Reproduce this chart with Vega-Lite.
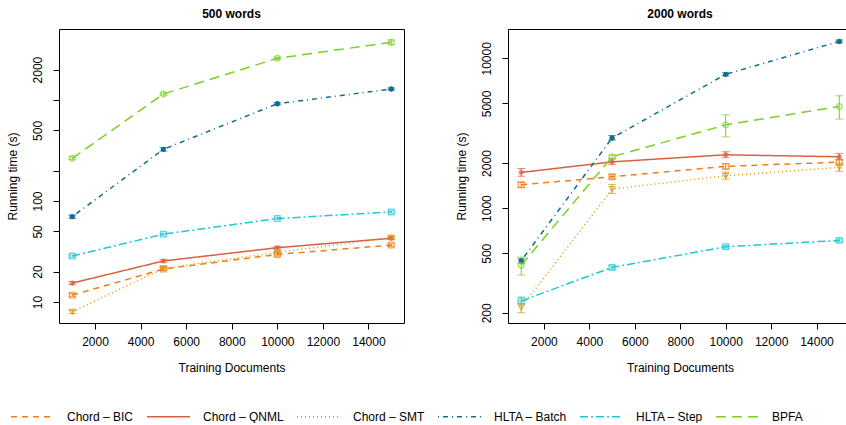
{
  "$schema": "https://vega.github.io/schema/vega-lite/v6.json",
  "padding": {"left": 5, "top": 7, "right": 0, "bottom": 0},
  "background": "white",
  "config": {
    "font": "Liberation Sans",
    "view": {"stroke": "black", "strokeWidth": 1},
    "axis": {"grid": false, "domain": false, "tickColor": "black", "tickSize": 6, "labelFontSize": 12, "titleFontSize": 12, "titleFontWeight": "normal", "labelColor": "black", "titleColor": "black", "labelFont": "Liberation Sans", "titleFont": "Liberation Sans"},
    "title": {"fontSize": 12, "fontWeight": "bold", "font": "Liberation Sans", "offset": 8},
    "legend": {"labelFont": "Liberation Sans", "labelFontSize": 12, "labelColor": "black", "padding": 0},
    "point": {"size": 32, "strokeWidth": 1.3}
  },
  "data": {"values": [
    {"panel": "500", "series": "Chord – BIC", "docs": 1000, "time": 11.7, "lo": 11.3, "hi": 12.1},
    {"panel": "500", "series": "Chord – BIC", "docs": 5000, "time": 21.2, "lo": 20.5, "hi": 21.9},
    {"panel": "500", "series": "Chord – BIC", "docs": 10000, "time": 29.6, "lo": 28.6, "hi": 30.6},
    {"panel": "500", "series": "Chord – BIC", "docs": 15000, "time": 36.6, "lo": 35.5, "hi": 37.7},
    {"panel": "500", "series": "Chord – QNML", "docs": 1000, "time": 15.4, "lo": 14.9, "hi": 15.9},
    {"panel": "500", "series": "Chord – QNML", "docs": 5000, "time": 25.5, "lo": 24.7, "hi": 26.3},
    {"panel": "500", "series": "Chord – QNML", "docs": 10000, "time": 34.5, "lo": 33.4, "hi": 35.6},
    {"panel": "500", "series": "Chord – QNML", "docs": 15000, "time": 42.8, "lo": 41.5, "hi": 44.1},
    {"panel": "500", "series": "Chord – SMT", "docs": 1000, "time": 8.0, "lo": 7.7, "hi": 8.3},
    {"panel": "500", "series": "Chord – SMT", "docs": 5000, "time": 21.5, "lo": 20.8, "hi": 22.2},
    {"panel": "500", "series": "Chord – SMT", "docs": 10000, "time": 31, "lo": 30, "hi": 32},
    {"panel": "500", "series": "Chord – SMT", "docs": 15000, "time": 43.4, "lo": 42, "hi": 44.8},
    {"panel": "500", "series": "HLTA – Batch", "docs": 1000, "time": 70, "lo": 67.5, "hi": 72.5},
    {"panel": "500", "series": "HLTA – Batch", "docs": 5000, "time": 325, "lo": 312, "hi": 338},
    {"panel": "500", "series": "HLTA – Batch", "docs": 10000, "time": 918, "lo": 895, "hi": 941},
    {"panel": "500", "series": "HLTA – Batch", "docs": 15000, "time": 1285, "lo": 1255, "hi": 1315},
    {"panel": "500", "series": "HLTA – Step", "docs": 1000, "time": 28.5, "lo": 27.8, "hi": 29.2},
    {"panel": "500", "series": "HLTA – Step", "docs": 5000, "time": 47, "lo": 46, "hi": 48},
    {"panel": "500", "series": "HLTA – Step", "docs": 10000, "time": 67, "lo": 65.5, "hi": 68.5},
    {"panel": "500", "series": "HLTA – Step", "docs": 15000, "time": 78, "lo": 76, "hi": 80},
    {"panel": "500", "series": "BPFA", "docs": 1000, "time": 265, "lo": 257, "hi": 273},
    {"panel": "500", "series": "BPFA", "docs": 5000, "time": 1146, "lo": 1115, "hi": 1177},
    {"panel": "500", "series": "BPFA", "docs": 10000, "time": 2588, "lo": 2520, "hi": 2656},
    {"panel": "500", "series": "BPFA", "docs": 15000, "time": 3727, "lo": 3530, "hi": 3930},
    {"panel": "2000", "series": "Chord – BIC", "docs": 1000, "time": 1432, "lo": 1380, "hi": 1490},
    {"panel": "2000", "series": "Chord – BIC", "docs": 5000, "time": 1618, "lo": 1570, "hi": 1670},
    {"panel": "2000", "series": "Chord – BIC", "docs": 10000, "time": 1900, "lo": 1820, "hi": 1980},
    {"panel": "2000", "series": "Chord – BIC", "docs": 15000, "time": 2028, "lo": 1950, "hi": 2100},
    {"panel": "2000", "series": "Chord – QNML", "docs": 1000, "time": 1731, "lo": 1630, "hi": 1840},
    {"panel": "2000", "series": "Chord – QNML", "docs": 5000, "time": 2036, "lo": 1950, "hi": 2130},
    {"panel": "2000", "series": "Chord – QNML", "docs": 10000, "time": 2270, "lo": 2170, "hi": 2380},
    {"panel": "2000", "series": "Chord – QNML", "docs": 15000, "time": 2202, "lo": 2100, "hi": 2320},
    {"panel": "2000", "series": "Chord – SMT", "docs": 1000, "time": 217, "lo": 200, "hi": 240},
    {"panel": "2000", "series": "Chord – SMT", "docs": 5000, "time": 1339, "lo": 1250, "hi": 1440},
    {"panel": "2000", "series": "Chord – SMT", "docs": 10000, "time": 1645, "lo": 1560, "hi": 1740},
    {"panel": "2000", "series": "Chord – SMT", "docs": 15000, "time": 1870, "lo": 1760, "hi": 2000},
    {"panel": "2000", "series": "HLTA – Batch", "docs": 1000, "time": 445, "lo": 430, "hi": 460},
    {"panel": "2000", "series": "HLTA – Batch", "docs": 5000, "time": 2939, "lo": 2850, "hi": 3050},
    {"panel": "2000", "series": "HLTA – Batch", "docs": 10000, "time": 7821, "lo": 7650, "hi": 8000},
    {"panel": "2000", "series": "HLTA – Batch", "docs": 15000, "time": 12973, "lo": 12700, "hi": 13250},
    {"panel": "2000", "series": "HLTA – Step", "docs": 1000, "time": 240, "lo": 230, "hi": 255},
    {"panel": "2000", "series": "HLTA – Step", "docs": 5000, "time": 402, "lo": 392, "hi": 412},
    {"panel": "2000", "series": "HLTA – Step", "docs": 10000, "time": 552, "lo": 540, "hi": 565},
    {"panel": "2000", "series": "HLTA – Step", "docs": 15000, "time": 609, "lo": 595, "hi": 623},
    {"panel": "2000", "series": "BPFA", "docs": 1000, "time": 416, "lo": 357, "hi": 471},
    {"panel": "2000", "series": "BPFA", "docs": 5000, "time": 2202, "lo": 2150, "hi": 2260},
    {"panel": "2000", "series": "BPFA", "docs": 10000, "time": 3596, "lo": 2993, "hi": 4198},
    {"panel": "2000", "series": "BPFA", "docs": 15000, "time": 4773, "lo": 3929, "hi": 5626}
  ]},
  "bounds": "flush",
  "spacing": 104,
  "hconcat": [
    {
      "title": "500 words",
      "width": 345,
      "height": 294,
      "transform": [{"filter": "datum.panel == '500'"}],
      "encoding": {
        "x": {"field": "docs", "type": "quantitative", "scale": {"domain": [418, 15560], "nice": false, "zero": false}, "axis": {"title": "Training Documents", "values": [2000, 4000, 6000, 8000, 10000, 12000, 14000], "format": "d", "labelPadding": 7, "titlePadding": 15, "labelFlush": false}},
        "y": {"field": "time", "type": "quantitative", "scale": {"type": "log", "domain": [6.2, 5047], "nice": false, "zero": false}, "axis": {"title": "Running time (s)", "values": [10, 20, 50, 100, 200, 500, 1000, 2000], "labelExpr": "datum.value == 200 || datum.value == 1000 ? '' : datum.value", "labelAngle": -90, "labelAlign": "center", "labelBaseline": "bottom", "labelPadding": 9, "titlePadding": 12}},
        "color": {"field": "series", "type": "nominal", "scale": {"domain": ["Chord – BIC", "Chord – QNML", "Chord – SMT", "HLTA – Batch", "HLTA – Step", "BPFA"], "range": ["#EE7E1C", "#D95F43", "#D49B0B", "#0F6E91", "#1CC9D6", "#78D21F"]}, "legend": null}
      },
      "layer": [
        {
          "mark": {"type": "line", "strokeWidth": 1.5},
          "encoding": {
            "color": {"field": "series", "type": "nominal", "title": null, "legend": {"orient": "none", "legendX": -49, "legendY": 365, "direction": "horizontal", "symbolType": "stroke", "symbolSize": 1850, "symbolStrokeWidth": 1.5, "labelOffset": 12, "columnPadding": 9}},
            "strokeDash": {"field": "series", "type": "nominal", "scale": {"domain": ["Chord – BIC", "Chord – QNML", "Chord – SMT", "HLTA – Batch", "HLTA – Step", "BPFA"], "range": [[6, 5], [1, 0], [1, 3], [1, 4, 5, 4], [8, 3, 2, 3], [10, 6]]}, "title": null, "legend": {"orient": "none", "legendX": -49, "legendY": 365, "direction": "horizontal", "symbolType": "stroke", "symbolSize": 1850, "symbolStrokeWidth": 1.5, "labelOffset": 12, "columnPadding": 9}}
          }
        },
        {
          "mark": {"type": "errorbar", "ticks": {"size": 8}, "thickness": 1},
          "encoding": {
            "y": {"field": "lo", "type": "quantitative", "title": "Running time (s)"},
            "y2": {"field": "hi"}
          }
        },
        {"transform": [{"filter": "datum.series == 'Chord – BIC' || datum.series == 'HLTA – Step'"}], "mark": {"type": "point", "shape": "square", "filled": false}},
        {"transform": [{"filter": "datum.series == 'Chord – QNML'"}], "mark": {"type": "point", "shape": "M-1,0L1,0M0,-1L0,1M-0.7,-0.7L0.7,0.7M-0.7,0.7L0.7,-0.7", "filled": false}},
        {"transform": [{"filter": "datum.series == 'Chord – SMT'"}], "mark": {"type": "point", "shape": "triangle-down", "filled": false}},
        {"transform": [{"filter": "datum.series == 'HLTA – Batch'"}], "mark": {"type": "point", "shape": "circle", "filled": true, "opacity": 1, "size": 28}},
        {"transform": [{"filter": "datum.series == 'BPFA'"}], "mark": {"type": "point", "shape": "circle", "filled": false}}
      ]
    },
    {
      "title": "2000 words",
      "width": 344,
      "height": 294,
      "transform": [{"filter": "datum.panel == '2000'"}],
      "encoding": {
        "x": {"field": "docs", "type": "quantitative", "scale": {"domain": [418, 15560], "nice": false, "zero": false}, "axis": {"title": "Training Documents", "values": [2000, 4000, 6000, 8000, 10000, 12000, 14000], "format": "d", "labelPadding": 7, "titlePadding": 15, "labelFlush": false}},
        "y": {"field": "time", "type": "quantitative", "scale": {"type": "log", "domain": [171, 15700], "nice": false, "zero": false}, "axis": {"title": "Running time (s)", "values": [200, 500, 1000, 2000, 5000, 10000], "format": "d", "labelAngle": -90, "labelAlign": "center", "labelBaseline": "bottom", "labelPadding": 9, "titlePadding": 12}},
        "color": {"field": "series", "type": "nominal", "legend": null}
      },
      "layer": [
        {
          "mark": {"type": "line", "strokeWidth": 1.5},
          "encoding": {
            "strokeDash": {"field": "series", "type": "nominal", "legend": null}
          }
        },
        {
          "mark": {"type": "errorbar", "ticks": {"size": 8}, "thickness": 1},
          "encoding": {
            "y": {"field": "lo", "type": "quantitative", "title": "Running time (s)"},
            "y2": {"field": "hi"}
          }
        },
        {"transform": [{"filter": "datum.series == 'Chord – BIC' || datum.series == 'HLTA – Step'"}], "mark": {"type": "point", "shape": "square", "filled": false}},
        {"transform": [{"filter": "datum.series == 'Chord – QNML'"}], "mark": {"type": "point", "shape": "M-1,0L1,0M0,-1L0,1M-0.7,-0.7L0.7,0.7M-0.7,0.7L0.7,-0.7", "filled": false}},
        {"transform": [{"filter": "datum.series == 'Chord – SMT'"}], "mark": {"type": "point", "shape": "triangle-down", "filled": false}},
        {"transform": [{"filter": "datum.series == 'HLTA – Batch'"}], "mark": {"type": "point", "shape": "circle", "filled": true, "opacity": 1, "size": 28}},
        {"transform": [{"filter": "datum.series == 'BPFA'"}], "mark": {"type": "point", "shape": "circle", "filled": false}}
      ]
    }
  ],
  "resolve": {"scale": {"y": "independent", "x": "independent"}}
}
